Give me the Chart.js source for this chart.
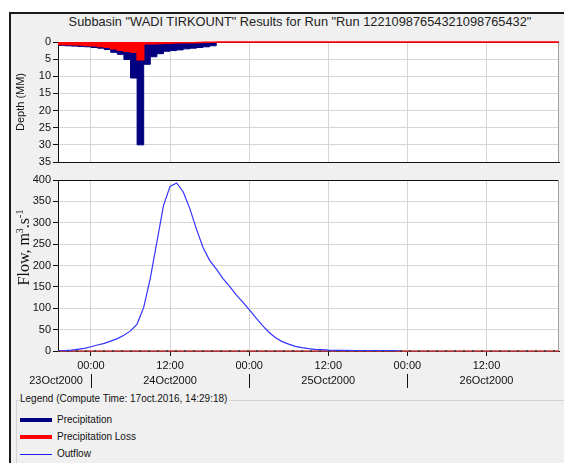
<!DOCTYPE html>
<html>
<head>
<meta charset="utf-8">
<script src="https://cdn.jsdelivr.net/npm/chart.js@4"></script>
<style>
  body { margin: 0; width: 564px; height: 463px; overflow: hidden; background: #fff; font-family: 'Liberation Sans', Arial, sans-serif; }
  #frame { position: absolute; left: 9px; top: 12px; width: 560px; height: 460px; background: #f0f0f0; border-left: 2px solid #1a1a1a; border-top: 2px solid #1a1a1a; }
  #title { position: absolute; left: 20px; top: 14px; width: 560px; text-align: center; font-size: 12.8px; line-height: 15px; color: #222; }
  .box { position: absolute; left: 10px; width: 554px; }
  #depthBox { top: 14px; height: 156px; }
  #flowBox { top: 170px; height: 222px; }
  #legend { position: absolute; left: 16px; top: 400px; width: 560px; height: 70px; border-left: 1px solid #d4d4d4; border-top: 1px solid #d4d4d4; }
  #legend .cap { position: absolute; left: 3px; top: -8px; background: #f0f0f0; font-size: 10px; color: #111; padding-right: 2px; }
  .item { position: absolute; left: 3px; font-size: 10px; color: #111; }
  .item span { display: inline-block; width: 32px; vertical-align: middle; margin-right: 5px; }
</style>
</head>
<body>
<div id="frame"></div>
<div id="title">Subbasin "WADI TIRKOUNT" Results for Run "Run 12210987654321098765432"</div>
<div class="box" id="depthBox"><canvas id="depthChart"></canvas></div>
<div class="box" id="flowBox"><canvas id="flowChart"></canvas></div>
<div id="legend">
  <div class="cap">Legend (Compute Time: 17oct.2016, 14:29:18)</div>
  <div class="item" style="top:13px"><span style="border-top:4px solid #000080"></span>Precipitation</div>
  <div class="item" style="top:30px"><span style="border-top:4px solid #ff0000"></span>Precipitation Loss</div>
  <div class="item" style="top:47px"><span style="border-top:1px solid #2020ff"></span>Outflow</div>
</div>
<script>
// hours relative to 24Oct2000 00:00
const hourMin = -5, hourMax = 71;
const tickHours = [0, 12, 24, 36, 48, 60];
const dayLabels = ['23Oct2000', '24Oct2000', '25Oct2000', '26Oct2000'];
const dayStartHours = [-24, 0, 24, 48];

// hyetograph, hourly blocks (value holds for the hour starting at precipHours[i])
const precipHours = [-5, -4, -3, -2, -1, 0, 1, 2, 3, 4, 5, 6, 7, 8, 9, 10, 11, 12, 13, 14, 15, 16, 17, 18];
const precipMM = [1.0, 1.1, 1.2, 1.3, 1.4, 1.6, 1.8, 2.2, 3.0, 3.6, 5.1, 10.5, 30.0, 6.5, 4.3, 3.4, 2.7, 2.5, 2.3, 2.0, 1.8, 1.6, 1.4, 1.1];
const lossMM = [0.7, 0.75, 0.8, 0.9, 1.0, 1.1, 1.3, 1.5, 2.0, 2.4, 2.7, 3.0, 5.2, 0.5, 0.5, 0.45, 0.4, 0.3, 0.25, 0.2, 0.2, 0.15, 0.1, 0.1];

// outflow hydrograph
const flowHours = [-5, -4, -3, -2, -1, 0, 1, 2, 3, 4, 5, 6, 7, 8, 9, 10, 11, 12, 13, 14, 15, 16, 17, 18, 19, 20,
  21, 22, 23, 24, 25, 26, 27, 28, 29, 30, 31, 32, 33, 34, 35, 36, 38, 40, 42, 44, 46, 47];
const flowCms = [0, 1, 2, 4, 6, 10, 14, 18, 23, 29, 37, 47, 63, 102, 170, 255, 340, 385, 393, 372, 333, 285, 242, 212, 192, 170,
  152, 132, 115, 97, 78, 60, 44, 31, 22, 16, 11, 8, 5.5, 4, 3, 2, 1.5, 1.2, 1, 1, 0.8, 0];

const fontFam = "'Liberation Sans', Arial, sans-serif";
Chart.defaults.font.family = fontFam;
Chart.defaults.font.size = 11;
Chart.defaults.color = '#111';
Chart.defaults.animation = false;

const pts = (xs, ys) => xs.map((x, i) => ({ x: x, y: ys[i] }));
// step blocks end with a zero after the last hour
const blockPts = (ys, endHour) => pts(precipHours, ys).concat([{ x: precipHours[precipHours.length - 1] + 1, y: 0 }, { x: endHour, y: 0 }]);

// white plot area + grey/black frame
const frame = {
  id: 'frame',
  beforeDraw(chart, args, opts) {
    const { ctx, chartArea: a } = chart;
    ctx.save();
    ctx.fillStyle = '#fff';
    ctx.fillRect(a.left, a.top, a.right - a.left, a.bottom - a.top);
    ctx.restore();
  },
  beforeDatasetsDraw(chart, args, opts) {
    const { ctx, chartArea: a } = chart;
    ctx.save();
    ctx.lineWidth = 1;
    ctx.strokeStyle = opts.top || '#000';
    ctx.beginPath(); ctx.moveTo(a.left, a.top + 0.5); ctx.lineTo(a.right, a.top + 0.5); ctx.stroke();
    ctx.strokeStyle = '#a0a0a0';
    ctx.beginPath(); ctx.moveTo(a.right - 0.5, a.top); ctx.lineTo(a.right - 0.5, a.bottom); ctx.stroke();
    ctx.restore();
  }
};

// date row under the time axis
const dateRow = {
  id: 'dateRow',
  afterDraw(chart) {
    const { ctx, chartArea: a } = chart;
    const xs = chart.scales.x;
    const y = a.bottom + 30;
    ctx.save();
    ctx.font = '11px ' + fontFam;
    ctx.fillStyle = '#111';
    ctx.textBaseline = 'middle';
    ctx.strokeStyle = '#111';
    ctx.lineWidth = 1;
    dayLabels.forEach((lbl, i) => {
      const start = dayStartHours[i];
      const sx = xs.getPixelForValue(start);
      if (start > hourMin && start < hourMax) {
        ctx.beginPath(); ctx.moveTo(Math.round(sx) + 0.5, y - 7); ctx.lineTo(Math.round(sx) + 0.5, y + 7); ctx.stroke();
      }
      const nx = xs.getPixelForValue(start + 12);
      if (nx >= a.left) {
        ctx.textAlign = 'center';
        ctx.fillText(lbl, nx, y);
      } else {
        ctx.textAlign = 'right';
        ctx.fillText(lbl, xs.getPixelForValue(start + 24) - 8, y);
      }
    });
    ctx.restore();
  }
};

// "Flow, m3.s-1" with superscripts
const flowTitle = {
  id: 'flowTitle',
  afterDraw(chart) {
    const { ctx, chartArea: a } = chart;
    const parts = [['Flow, m', false], ['3', true], ['.s', false], ['-1', true]];
    const big = "16px 'Liberation Serif', 'Times New Roman', serif";
    const small = "10px 'Liberation Serif', 'Times New Roman', serif";
    ctx.save();
    let total = 0;
    parts.forEach(p => { ctx.font = p[1] ? small : big; total += ctx.measureText(p[0]).width; });
    ctx.translate(14, (a.top + a.bottom) / 2 - 18);
    ctx.rotate(-Math.PI / 2);
    ctx.fillStyle = '#111';
    ctx.textBaseline = 'alphabetic';
    let x = -total / 2;
    parts.forEach(p => {
      ctx.font = p[1] ? small : big;
      ctx.fillText(p[0], x, p[1] ? -1 : 5);
      x += ctx.measureText(p[0]).width;
    });
    ctx.restore();
  }
};

const timeAxis = (showLabels) => ({
  type: 'linear',
  min: hourMin,
  max: hourMax,
  afterBuildTicks: s => { s.ticks = tickHours.map(v => ({ value: v })); },
  afterFit: s => { s.height = showLabels ? 41 : 8; },
  grid: { color: '#d6d6d6', tickColor: '#111', tickLength: 5, drawTicks: showLabels },
  border: { color: '#111' },
  ticks: {
    display: showLabels,
    padding: 3,
    maxRotation: 0,
    callback: v => (v % 24 === 0 ? '00:00' : '12:00')
  }
});

new Chart(document.getElementById('depthChart'), {
  type: 'line',
  data: {
    datasets: [
      { label: 'Precipitation Loss', data: blockPts(lossMM, hourMax), stepped: true, fill: 'origin',
        borderColor: '#ff0000', backgroundColor: '#ff0000', borderWidth: 1.5, pointRadius: 0, order: 0, clip: 2 },
      { label: 'Precipitation', data: blockPts(precipMM, hourMax), stepped: true, fill: 'origin',
        borderColor: '#000080', backgroundColor: '#000080', borderWidth: 1, pointRadius: 0, order: 1 }
    ]
  },
  options: {
    responsive: true,
    maintainAspectRatio: false,
    layout: { padding: { top: 28, right: 5, bottom: 0, left: 0 } },
    plugins: { legend: { display: false }, tooltip: { enabled: false }, frame: { top: '#ff0000' } },
    scales: {
      x: timeAxis(false),
      y: {
        reverse: true,
        min: 0,
        max: 35,
        afterFit: s => { s.width = 48; s.paddingBottom = 0; s.paddingTop = 0; },
        ticks: { stepSize: 5, padding: 2 },
        grid: { color: '#d6d6d6', tickColor: '#111', tickLength: 5 },
        border: { color: '#111' },
        title: { display: true, text: 'Depth (MM)', font: { size: 11 }, color: '#111' }
      }
    }
  },
  plugins: [frame]
});

new Chart(document.getElementById('flowChart'), {
  type: 'line',
  data: {
    datasets: [
      { label: 'Outflow', data: pts(flowHours, flowCms), borderColor: '#3333ff', borderWidth: 1.2,
        pointRadius: 0, tension: 0, order: 0 },
      { label: 'zero', data: pts([hourMin, hourMax], [0, 0]), borderColor: '#333', borderWidth: 1.5,
        borderDash: [2, 7], pointRadius: 0, order: 1, clip: 2 },
      { label: 'base', data: pts([hourMin, hourMax], [0, 0]), borderColor: '#d04040', borderWidth: 1.5,
        pointRadius: 0, order: 2, clip: 2 }
    ]
  },
  options: {
    responsive: true,
    maintainAspectRatio: false,
    layout: { padding: { top: 10, right: 5, bottom: 0, left: 0 } },
    plugins: { legend: { display: false }, tooltip: { enabled: false }, frame: { top: '#111' } },
    scales: {
      x: timeAxis(true),
      y: {
        min: 0,
        max: 400,
        afterFit: s => { s.width = 48; },
        ticks: { stepSize: 50, padding: 2 },
        grid: { color: '#d6d6d6', tickColor: '#111', tickLength: 5 },
        border: { color: '#111' }
      }
    }
  },
  plugins: [frame, dateRow, flowTitle]
});
</script>
</body>
</html>
